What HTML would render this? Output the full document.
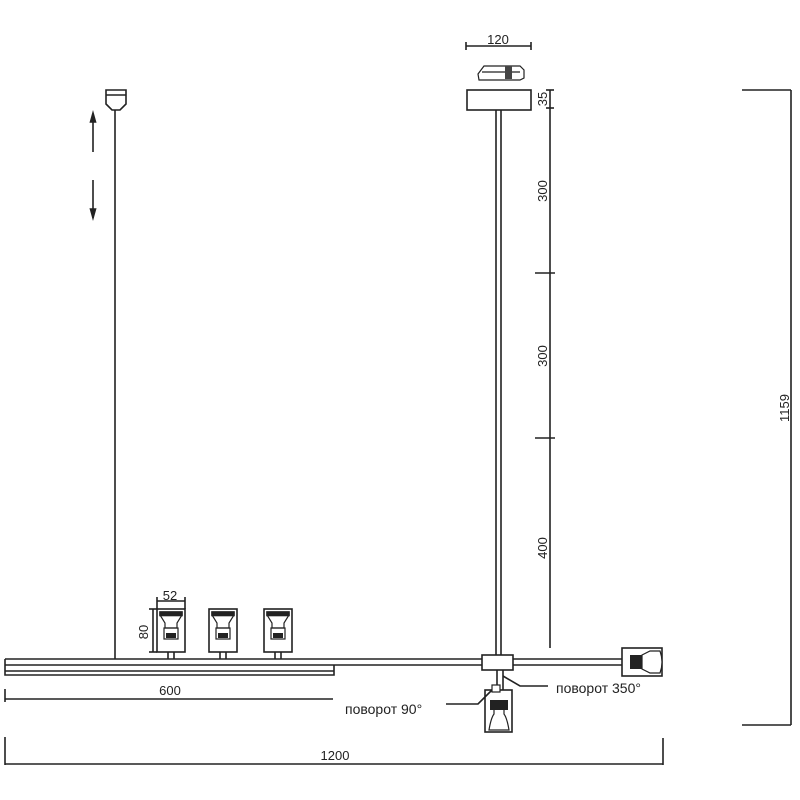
<!DOCTYPE html>
<html><head><meta charset="utf-8"><style>html,body{margin:0;padding:0;background:#fff}svg{display:block}</style></head>
<body>
<svg width="800" height="800" viewBox="0 0 800 800" xmlns="http://www.w3.org/2000/svg" font-family="Liberation Sans, sans-serif" fill="none" stroke="#222" stroke-width="1.6">
<defs>
<g id="spot">
<rect x="0" y="0" width="28" height="43" fill="#fff"/>
<path d="M3 3 H25 V6 L20 14 V19 H8 V14 L3 6 Z" fill="#fff" stroke-width="1.2"/>
<rect x="3" y="3" width="22" height="3.5" fill="#222"/>
<rect x="7" y="19" width="14" height="11" stroke-width="1.2"/>
<rect x="9" y="24" width="10" height="5" fill="#222" stroke="none"/>
<line x1="11" y1="43" x2="11" y2="50"/><line x1="17" y1="43" x2="17" y2="50"/>
</g>
</defs>
<!-- left suspension -->
<path d="M106 90 H126 V104 L120 110 H112 L106 104 Z" fill="#fff"/>
<line x1="106" y1="95" x2="126" y2="95"/>
<line x1="115" y1="110" x2="115" y2="659"/>
<line x1="93" y1="115" x2="93" y2="152"/>
<path d="M90.5 122 L93 113 L95.5 122 Z" fill="#222"/>
<line x1="93" y1="180" x2="93" y2="218"/>
<path d="M90.5 209 L93 218 L95.5 209 Z" fill="#222"/>
<!-- right suspension -->
<line x1="466" y1="46" x2="531" y2="46"/><line x1="466" y1="42" x2="466" y2="50"/><line x1="531" y1="42" x2="531" y2="50"/>
<text x="498" y="44" font-size="13" fill="#222" stroke="none" text-anchor="middle">120</text>
<path d="M478 74 L484 66 H520 L524 70 V78 L520 80 H479 Z" fill="#fff" stroke-width="1.2"/>
<line x1="482" y1="72" x2="520" y2="72" stroke-width="1.2"/>
<rect x="505" y="66" width="7" height="13" fill="#444" stroke="none"/>
<rect x="467" y="90" width="64" height="20" fill="#fff"/>
<line x1="496" y1="110" x2="496" y2="655"/><line x1="501" y1="110" x2="501" y2="655"/>
<!-- vertical dims -->
<line x1="550" y1="90" x2="550" y2="648"/>
<line x1="546" y1="90" x2="554" y2="90"/><line x1="546" y1="108" x2="554" y2="108"/>
<line x1="535" y1="273" x2="555" y2="273"/><line x1="535" y1="438" x2="555" y2="438"/>
<g font-size="13" fill="#222" stroke="none" text-anchor="middle">
<text transform="translate(547 99) rotate(-90)">35</text>
<text transform="translate(547 191) rotate(-90)">300</text>
<text transform="translate(547 356) rotate(-90)">300</text>
<text transform="translate(547 548) rotate(-90)">400</text>
<text transform="translate(789 408) rotate(-90)">1159</text>
<text x="170" y="600">52</text>
<text transform="translate(148 632) rotate(-90)">80</text>
<text x="170" y="695">600</text>
<text x="335" y="760">1200</text>
</g>
<line x1="791" y1="90" x2="791" y2="725"/><line x1="742" y1="90" x2="791" y2="90"/><line x1="742" y1="725" x2="791" y2="725"/>
<!-- bar -->
<line x1="5" y1="659" x2="622" y2="659"/>
<line x1="5" y1="665" x2="622" y2="665"/>
<path d="M5 659 V675 H334 V665"/>
<line x1="5" y1="671" x2="334" y2="671"/>
<!-- spots -->
<use href="#spot" x="157" y="609"/><use href="#spot" x="209" y="609"/><use href="#spot" x="264" y="609"/>
<line x1="157" y1="601" x2="185" y2="601"/><line x1="157" y1="597" x2="157" y2="609"/><line x1="185" y1="597" x2="185" y2="609"/>
<line x1="153" y1="609" x2="153" y2="652"/><line x1="149" y1="609" x2="157" y2="609"/><line x1="149" y1="652" x2="157" y2="652"/>
<!-- connector -->
<rect x="482" y="655" width="31" height="15" fill="#fff"/>
<line x1="497" y1="670" x2="497" y2="690"/><line x1="503" y1="670" x2="503" y2="690"/>
<rect x="485" y="690" width="27" height="42" fill="#fff"/>
<path d="M489 730 Q491 718 494 714 V708 H504 V714 Q507 718 509 730 Z" fill="#fff" stroke-width="1.2"/>
<rect x="490" y="700" width="18" height="10" fill="#222" stroke="none"/>
<rect x="492" y="685" width="8" height="7" fill="#fff" stroke-width="1.2"/>
<!-- right lamp -->
<rect x="622" y="648" width="40" height="28" fill="#fff"/>
<rect x="630" y="655" width="12" height="14" fill="#222" stroke="none"/>
<path d="M642 655 L650 651 H660 Q664 662 660 673 H650 L642 669 Z" fill="#fff" stroke-width="1.2"/>
<!-- leaders -->
<path d="M503 676 L520 686 H548"/>
<text x="556" y="693" font-size="14" fill="#222" stroke="none">поворот 350°</text>
<path d="M492 690 L478 704 H446"/>
<text x="345" y="714" font-size="14" fill="#222" stroke="none">поворот 90°</text>
<!-- dims bottom -->
<line x1="5" y1="699" x2="333" y2="699"/><line x1="5" y1="689" x2="5" y2="702"/>
<line x1="5" y1="764" x2="663" y2="764"/><line x1="5" y1="737" x2="5" y2="765"/><line x1="663" y1="738" x2="663" y2="765"/>
</svg>
</body></html>
